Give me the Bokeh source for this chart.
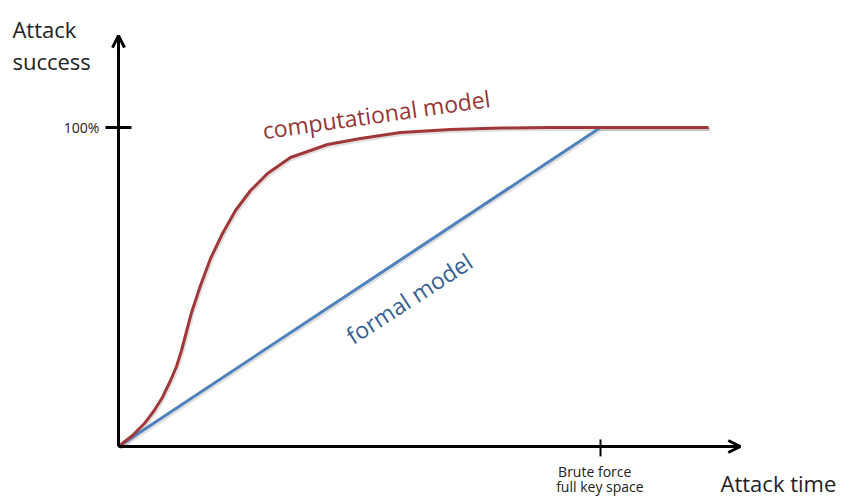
from bokeh.plotting import figure
from bokeh.models import Range1d, Arrow, OpenHead
from bokeh.embed import file_html
from bokeh.resources import INLINE
from bokeh.core.properties import value

# ---- data (attack time normalised to brute force = 1, success 1 = 100%) ----
comp_x = [0.0, 0.0290, 0.0533, 0.0741, 0.0913, 0.1079, 0.1203, 0.1307, 0.1411, 0.1515,
          0.1701, 0.1909, 0.2158, 0.2427, 0.2739, 0.3091, 0.3568, 0.3983, 0.4336,
          0.5021, 0.5851, 0.6888, 0.7925, 0.8963, 1.0, 1.224]
comp_y = [0.0, 0.0345, 0.0712, 0.1129, 0.1545, 0.2069, 0.2508, 0.3009, 0.3605, 0.4201,
          0.5047, 0.5893, 0.6677, 0.7398, 0.8025, 0.8558, 0.9060, 0.9279, 0.9467,
          0.9655, 0.9843, 0.9937, 0.9984, 1.0, 1.0, 1.0]
formal_x = [0.0, 1.0, 1.224]
formal_y = [0.0, 1.0, 1.0]

y_tick_labels = ["100%"]
x_tick_labels = ["Brute force", "full key space"]
y_axis_label = ["Attack", "success"]
x_axis_label = "Attack time"
comp_label = "computational model"
formal_label = "formal model"

X_MAX = 1.29
Y_MAX = 1.288

FONT = value("Open Sans")

p = figure(width=844, height=497, output_backend="svg", toolbar_location=None,
           x_range=Range1d(-0.2448, 1.5062), y_range=Range1d(-0.1599, 1.3981),
           min_border=0)
p.axis.visible = False
p.grid.visible = False
p.outline_line_color = None
p.background_fill_color = "white"
p.border_fill_color = "white"

# subtle shadows
sx, sy = 0.003, -0.006
p.line([v + sx for v in formal_x], [v + sy for v in formal_y], line_color="black",
       line_alpha=0.12, line_width=3)
p.line([v + sx for v in comp_x], [v + sy for v in comp_y], line_color="black",
       line_alpha=0.12, line_width=3, line_join="round")

p.line(formal_x, formal_y, line_color="#4F81BD", line_width=3)
p.line(comp_x, comp_y, line_color="#A0383A", line_width=3, line_join="round")

# axes with arrows
p.add_layout(Arrow(end=OpenHead(size=12, line_width=3, line_color="black"),
                   x_start=0, y_start=0, x_end=0, y_end=Y_MAX,
                   line_width=3, line_color="black"))
p.add_layout(Arrow(end=OpenHead(size=12, line_width=3, line_color="black"),
                   x_start=0, y_start=0, x_end=X_MAX, y_end=0,
                   line_width=3, line_color="black"))
# ticks
p.segment(x0=[-0.027], y0=[1.0], x1=[0.027], y1=[1.0], line_color="black", line_width=3)
p.segment(x0=[1.0], y0=[0.022], x1=[1.0], y1=[-0.031], line_color="black", line_width=2)

# tick labels
p.text(x=[-0.04], y=[1.0], text=y_tick_labels, text_font=FONT, text_font_size="14px",
       text_align="right", text_baseline="middle", text_color="#222222")
p.text(x=[0.912, 0.908], y=[-0.0784, -0.1254], text=x_tick_labels, text_font=FONT,
       text_font_size="14px", text_align="left", text_baseline="alphabetic",
       text_color="#222222")

# axis labels
p.text(x=[-0.220, -0.220], y=[1.310, 1.207], text=y_axis_label, text_font=FONT,
       text_font_size="22px", text_align="left", text_baseline="alphabetic",
       text_color="#222222")
p.text(x=[1.249], y=[-0.116], text=[x_axis_label], text_font=FONT,
       text_font_size="22px", text_align="left", text_baseline="alphabetic",
       text_color="#222222")

# curve labels
p.text(x=[0.299], y=[0.991], text=[comp_label], angle=0.141, text_font=FONT,
       text_font_size="23px", text_align="left", text_baseline="alphabetic",
       text_color="#953735")
p.text(x=[0.477], y=[0.341], text=[formal_label], angle=0.576, text_font=FONT,
       text_font_size="23px", text_align="left", text_baseline="alphabetic",
       text_color="#376092")

open("out.html", "w").write(file_html(p, INLINE))
